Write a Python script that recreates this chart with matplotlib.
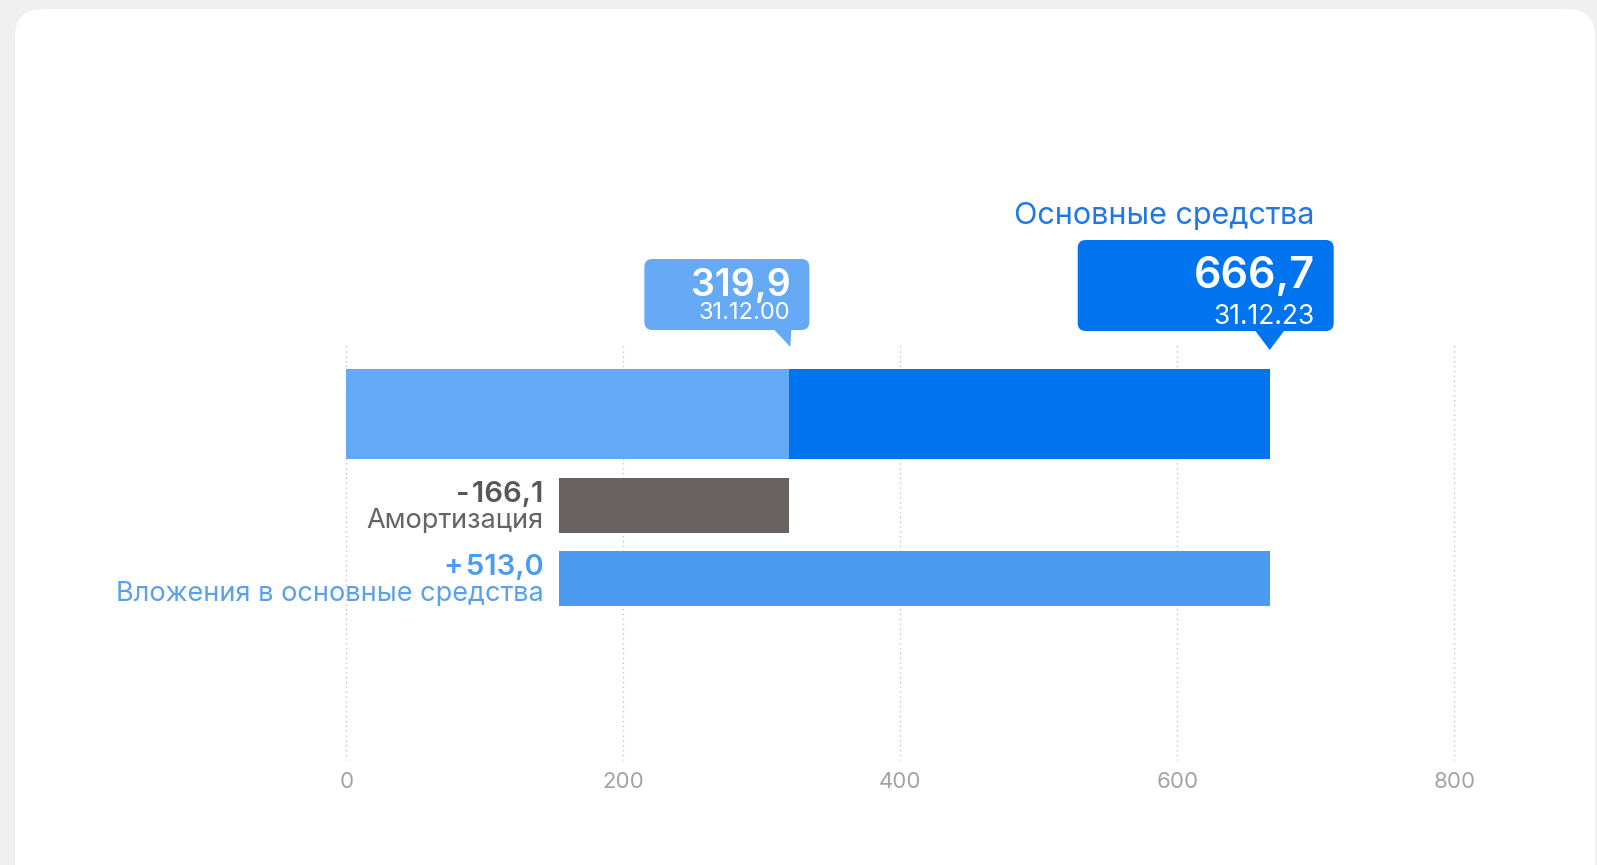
import matplotlib
matplotlib.use("Agg")
import matplotlib.pyplot as plt
from matplotlib.patches import FancyBboxPatch, Polygon
from matplotlib.transforms import Affine2D

# ---------------- data ----------------
title = "Основные средства"
start_value = 319.9
start_date = "31.12.00"
end_value = 666.7
end_date = "31.12.23"
change_labels = ["Амортизация", "Вложения в основные средства"]
change_values = [-166.1, 513.0]
tick_values = [0, 200, 400, 600, 800]

# ---------------- style ----------------
W, H, DPI = 1597, 865, 100
FONT = ["Inter", "DejaVu Sans"]
plt.rcParams["font.family"] = FONT

C_LIGHT = "#64a9f6"
C_DARK = "#0074ef"
C_AMORT = "#686261"
C_INVEST = "#4b9cf0"
C_TITLE = "#1f78e3"


def fmt(v):
    return f"{abs(v):.1f}".replace(".", ",")


fig = plt.figure(figsize=(W / DPI, H / DPI), dpi=DPI, facecolor="#efefef")
pix = Affine2D().scale(1, -1).translate(0, H)  # top-left pixel coords -> display

card = FancyBboxPatch((15, 9), 1580, 950, boxstyle="round,pad=0,rounding_size=28",
                      transform=pix, facecolor="white", edgecolor="none", zorder=-5)
fig.add_artist(card)

ax = fig.add_axes([0, 0, 1, 1])
ax.patch.set_visible(False)
ax.set_xlim(-250, 903)
ax.set_ylim(6.153, -5.648)
ax.axis("off")

# grid + tick labels
ax.vlines(tick_values, -0.93, 4.72, colors="#c4c4c4", linestyles=(0, (1, 2.5)), linewidth=1, zorder=0)
for t in tick_values:
    ax.text(t, 5.02, str(t), ha="center", va="center", fontsize=16, color="#a3a3a3")

# main bar
H_MAIN, H_CHG = 1.236, 0.75
ax.barh(0, start_value, left=0, height=H_MAIN, color=C_LIGHT, zorder=2)
ax.barh(0, end_value - start_value, left=start_value, height=H_MAIN, color=C_DARK, zorder=2)

# change bars
ypos = [1.25, 2.25]
bar_colors = [C_AMORT, C_INVEST]
val_colors = ["#5b5656", C_INVEST]
lab_colors = ["#686363", "#5aa0ec"]
running = start_value
fig.canvas.draw()


def px(x, y):
    dx, dy = ax.transData.transform((x, y))
    return dx, H - dy


for lab, val, y, bc, vc, lc in zip(change_labels, change_values, ypos, bar_colors, val_colors, lab_colors):
    left = running + min(val, 0)
    ax.barh(y, abs(val), left=left, height=H_CHG, color=bc, zorder=2)
    running += val
    bx, by = px(left, y)
    sign = "-" if val < 0 else "+"
    ax.text(bx - 16, by - 11, f"{sign}\u200a{fmt(val)}", transform=pix, ha="right", va="center",
            fontsize=21, fontweight="semibold", color=vc)
    ax.text(bx - 16, by + 15, lab, transform=pix, ha="right", va="center",
            fontsize=19.5, color=lc)

# callouts
def callout(value, right_off, width, top, bottom, tip, color, big, small, big_fs, small_fs,
            big_y, small_y, pointer):
    p, _ = px(value, 0)
    right = p + right_off
    left = right - width
    box = FancyBboxPatch((left, top), width, bottom - top, boxstyle="round,pad=0,rounding_size=8",
                         transform=pix, facecolor=color, edgecolor="none", zorder=3)
    ax.add_patch(box)
    if pointer == "right":
        pts = [(p - 16, bottom - 1), (p + 2, bottom - 1), (p + 1, tip)]
    else:
        pts = [(p - 15, bottom - 1), (p + 15, bottom - 1), (p, tip)]
    ax.add_patch(Polygon(pts, closed=True, transform=pix, facecolor=color, edgecolor="none", zorder=3))
    tx = right - 19
    ax.text(tx, big_y, big, transform=pix, ha="right", va="center", fontsize=big_fs,
            fontweight="semibold", color="white", zorder=4)
    ax.text(tx, small_y, small, transform=pix, ha="right", va="center", fontsize=small_fs,
            color="white", zorder=4)
    return tx


callout(start_value, 20, 165, 259, 330, 347, "#66aaf5", fmt(start_value), start_date,
        27, 17, 286, 313, "right")
tx = callout(end_value, 64, 256, 240, 331, 350, C_DARK, fmt(end_value), end_date,
             31, 19, 277, 317, "center")
ax.text(tx, 216, title, transform=pix, ha="right", va="center", fontsize=22, color=C_TITLE)

fig.savefig("out.png", dpi=DPI, facecolor=fig.get_facecolor())
